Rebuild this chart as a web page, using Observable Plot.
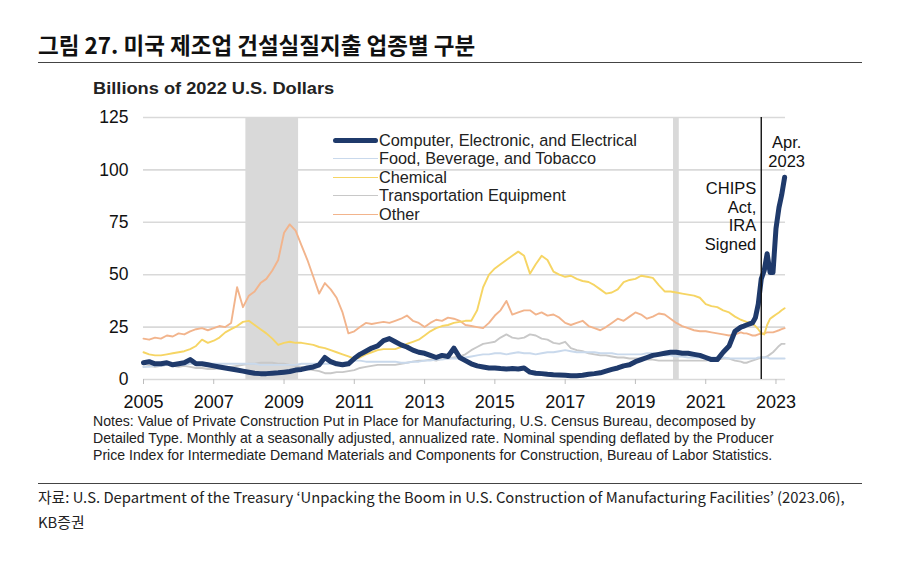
<!DOCTYPE html>
<html>
<head>
<meta charset="utf-8">
<script src="https://cdn.jsdelivr.net/npm/d3@7"></script>
<script src="https://cdn.jsdelivr.net/npm/@observablehq/plot@0.6"></script>
<style>
  html, body { margin: 0; padding: 0; background: #fff; }
  body { width: 900px; height: 563px; position: relative; overflow: hidden; font-family: "Liberation Sans", Arial, sans-serif; color: #111; }
  .abs { position: absolute; }
  #title { left: 38px; top: 30px; font-family: "Noto Sans CJK KR", sans-serif; font-weight: 700; font-size: 22.5px; line-height: 28px; color: #111; white-space: nowrap; }
  #rule1 { left: 38px; top: 62px; width: 824px; border-top: 1.5px solid #444; }
  #unit { left: 93px; top: 79px; font-weight: 700; font-size: 16px; line-height: 20px; color: #222; white-space: nowrap; transform: scaleX(1.14); transform-origin: left center; }
  #chart { left: 0px; top: 100px; }
  #legend { left: 333px; top: 131px; font-size: 16.3px; color: #222; }
  #legend .row { display: flex; align-items: center; height: 18.5px; white-space: nowrap; }
  #legend .sw { width: 45px; margin-right: 1px; }
  #notes { left: 93px; top: 413px; font-size: 14.1px; line-height: 17px; color: #222; white-space: nowrap; }
  #rule2 { left: 38px; top: 483px; width: 824px; border-top: 1.5px solid #444; }
  #source { left: 38px; top: 484px; font-family: "Noto Sans CJK KR", sans-serif; font-size: 14.8px; line-height: 25px; color: #222; white-space: nowrap; }
</style>
</head>
<body>
<div id="title" class="abs">그림 27. 미국 제조업 건설실질지출 업종별 구분</div>
<div id="rule1" class="abs"></div>
<div id="unit" class="abs">Billions of 2022 U.S. Dollars</div>
<div id="chart" class="abs"></div>
<div id="legend" class="abs"></div>
<div id="notes" class="abs">Notes: Value of Private Construction Put in Place for Manufacturing, U.S. Census Bureau, decomposed by<br>Detailed Type. Monthly at a seasonally adjusted, annualized rate. Nominal spending deflated by the Producer<br>Price Index for Intermediate Demand Materials and Components for Construction, Bureau of Labor Statistics.</div>
<div id="rule2" class="abs"></div>
<div id="source" class="abs">자료: U.S. Department of the Treasury ‘Unpacking the Boom in U.S. Construction of Manufacturing Facilities’ (2023.06),<br>KB증권</div>
<script>
// ---------- DATA ----------
const dates = [
  "2005-01","2005-03","2005-05","2005-07","2005-09","2005-11",
  "2006-01","2006-03","2006-05","2006-07","2006-09","2006-11",
  "2007-01","2007-03","2007-05","2007-07","2007-09","2007-11",
  "2008-01","2008-03","2008-05","2008-07","2008-09","2008-11",
  "2009-01","2009-03","2009-05","2009-07","2009-09","2009-11",
  "2010-01","2010-03","2010-05","2010-07","2010-09","2010-11",
  "2011-01","2011-03","2011-05","2011-07","2011-09","2011-11",
  "2012-01","2012-03","2012-05","2012-07","2012-09","2012-11",
  "2013-01","2013-03","2013-05","2013-07","2013-09","2013-11",
  "2014-01","2014-03","2014-05","2014-07","2014-09","2014-11",
  "2015-01","2015-03","2015-05","2015-07","2015-09","2015-11",
  "2016-01","2016-03","2016-05","2016-07","2016-09","2016-11",
  "2017-01","2017-03","2017-05","2017-07","2017-09","2017-11",
  "2018-01","2018-03","2018-05","2018-07","2018-09","2018-11",
  "2019-01","2019-03","2019-05","2019-07","2019-09","2019-11",
  "2020-01","2020-03","2020-05","2020-07","2020-09","2020-11",
  "2021-01","2021-03","2021-05","2021-07","2021-09","2021-11",
  "2022-01","2022-02","2022-03","2022-04","2022-05","2022-06",
  "2022-07","2022-08","2022-09","2022-10","2022-11","2022-12",
  "2023-01","2023-02","2023-03","2023-04"
];

const computer = [
  8, 8.5, 7.5, 7.5, 8, 7,
  7.5, 8, 9.5, 7.5, 7.5, 7,
  6.5, 6, 5.5, 5, 4.5, 4,
  3.5, 3, 2.8, 2.8, 3, 3.2,
  3.5, 3.8, 4.5, 4.8, 5.5, 6,
  7, 10.5, 8.5, 7.5, 7, 7.5,
  10, 12, 13.5, 15, 16, 18.5,
  19.5, 18, 16.5, 15.5, 14, 13,
  12.5, 11.5, 10.5, 11.5, 11, 15,
  10.5, 9, 7.5, 6.5, 6, 5.5,
  5.5, 5.2, 5, 5.2, 5, 5.5,
  3.5, 3, 2.8, 2.5, 2.3, 2.2,
  2, 1.8, 1.8, 2, 2.5, 2.8,
  3.2, 4, 4.8, 5.5, 6.5, 7,
  8.5, 9.5, 10.5, 11.5, 12, 12.5,
  13, 13, 12.5, 12.5, 12, 11.5,
  10.5, 9.5, 9.5, 13, 16, 23,
  25, 25.5, 26, 26.5, 27, 29.5,
  36, 48, 52, 60, 51, 51,
  72, 82, 88, 96.5
];

const food = [
  6, 6, 6.5, 6.5, 7, 7,
  7, 7, 7.5, 7.5, 7.5, 7.5,
  7.5, 7.5, 7.5, 7.5, 7.5, 7.5,
  7.5, 7.5, 7, 7, 7, 7,
  7, 7, 7, 7.5, 7.5, 7.5,
  7.5, 7.5, 7.5, 7.5, 8, 8.5,
  9, 9, 8.5, 8.5, 8.5, 8.5,
  8.5, 8.5, 8, 8, 8.5, 8.5,
  9, 9, 9.5, 9.5, 10, 10,
  10, 10.5, 11, 11.5, 12, 12,
  12.5, 12.5, 12, 12.5, 13, 12.5,
  12.5, 12, 12.5, 13, 13, 13.5,
  14, 13.5, 13, 13, 13, 13,
  12.5, 12.5, 12.5, 12, 12, 12,
  12, 12, 12.5, 12.5, 12, 11.5,
  11.5, 11, 11, 10.5, 10.5, 10.5,
  10.5, 10.5, 10.5, 10.5, 10, 10,
  10, 10, 10, 10, 10, 10,
  10.5, 10.5, 10.5, 10.5, 10, 10,
  10, 10, 10, 10
];

const chemical = [
  13, 12, 11.5, 11.5, 12, 12.5,
  13, 13.5, 14.5, 16, 19, 17.5,
  18.5, 20, 22.5, 24, 25.5, 27.5,
  28, 26, 24, 22, 19.5, 16.5,
  17.5, 18, 17.5, 17.5, 17, 16.5,
  15.5, 15, 14, 13, 12, 11,
  10, 10.5, 12, 13, 14, 14.5,
  14.5, 14.5, 15.5, 17, 18, 19,
  21, 23, 24.5, 25.5, 26, 27,
  27.5, 28, 28, 33, 44, 50,
  53, 55, 57, 59, 61, 59,
  50.5, 55, 59, 57, 51.5, 50,
  49, 49.5, 48, 47, 46.5, 45,
  43, 41, 41.5, 43, 46.5, 47.5,
  48, 49.5, 49, 48.5, 45, 42,
  42, 41.5, 41, 40.5, 40, 39,
  36, 35, 34.5, 33, 32, 30,
  28.5, 28, 27.5, 27, 26.5, 25.5,
  24, 22, 21.5, 26, 29, 30,
  31, 32, 33, 34
];

const transportation = [
  6, 6.5, 6, 6.5, 7, 6.5,
  6, 6.5, 6, 5.5, 5.5, 5,
  5, 5.5, 6, 6, 6.5, 7,
  7.5, 7.5, 8, 8, 8, 7.5,
  7.5, 7, 6.5, 6, 5, 4.5,
  4, 3, 3, 3.5, 3.5, 4,
  4.5, 5.5, 6, 6.5, 7, 7,
  7, 7, 7.5, 8, 8.5, 9,
  9, 9.5, 9, 10, 10, 10.5,
  11, 12, 14, 15.5, 17, 17.5,
  18, 20, 21.5, 20, 19.5, 20,
  21.5, 21, 19.5, 19, 17.5, 17,
  18, 15, 14, 13.5, 12.5, 12,
  11.5, 11.5, 11, 10.5, 10.5, 10,
  10, 10, 9.5, 9.5, 9, 9,
  9, 9, 9, 9, 9, 9,
  9, 9.5, 9.5, 10, 10, 9,
  8.5, 8, 8, 8.5, 9, 9.5,
  10, 10.5, 10.5, 11, 12, 13,
  14.5, 16, 17, 17
];

const other = [
  19.5, 19, 20, 19.5, 21, 20.5,
  22, 21.5, 23, 24, 24.5, 23.5,
  24.5, 25.5, 25, 27, 44, 34.5,
  40, 42, 46, 48, 52, 57,
  70, 74, 71, 64, 57, 49,
  41, 46, 43, 39, 32, 22,
  23, 25, 27, 26.5, 27, 27.5,
  27, 28, 29, 30.5, 28, 27,
  25, 27, 28.5, 28, 29.5, 29,
  28, 26, 25.5, 25, 24.5, 27,
  30.5, 33, 37.5, 31, 32, 33,
  33, 31, 32, 30.5, 31, 29.5,
  27, 26, 27, 28, 25.5, 24.5,
  23.5, 25, 27, 29, 28, 30,
  32, 31, 29, 30, 31.5, 31,
  29, 27, 25.5, 24.5, 23.5, 23,
  23, 22.5, 22, 21.5, 21, 21.5,
  22.5, 22, 22, 21.5, 21, 21,
  21.5, 22, 22, 22.5, 22.5, 22.5,
  23, 23.5, 24, 24.5
];

const seriesNames = [
  "Computer, Electronic, and Electrical",
  "Food, Beverage, and Tobacco",
  "Chemical",
  "Transportation Equipment",
  "Other"
];
const seriesColors = ["#1f3a6b", "#c9d9ec", "#f6d564", "#c8c8c8", "#f2b48c"];
const seriesWidths = [5, 1.9, 1.9, 1.9, 1.9];

const recessionStart = ["2007-12", "2020-02"];
const recessionEnd = ["2009-06", "2020-04"];

const eventDate = "2022-08";
const eventLabel = "CHIPS\nAct,\nIRA\nSigned";
const endLabel = "Apr.\n2023";

const yTicks = [0, 25, 50, 75, 100, 125];
const xTickYears = [2005, 2007, 2009, 2011, 2013, 2015, 2017, 2019, 2021, 2023];

// ---------- BUILD ----------
const parse = d3.utcParse("%Y-%m");
const values = [computer, food, chemical, transportation, other];
const rows = [];
values.forEach((arr, s) => arr.forEach((v, i) => rows.push({date: parse(dates[i]), value: v, series: seriesNames[s]})));
const recessions = recessionStart.map((s, i) => ({start: parse(s), end: parse(recessionEnd[i])}));
const drawOrder = [4, 2, 3, 1, 0];
const lastDate = parse(dates[dates.length - 1]);

const font = "'Liberation Sans', Arial, sans-serif";
const chart = Plot.plot({
  width: 900,
  height: 322,
  marginLeft: 143,
  marginRight: 115,
  marginTop: 17,
  marginBottom: 43,
  style: {fontFamily: font, fontSize: "17px", color: "#111", background: "transparent", overflow: "visible"},
  x: {type: "utc", domain: [parse("2005-01"), new Date(Date.UTC(2023, 3, 10))]},
  y: {domain: [0, 125]},
  marks: [
    Plot.rectX(recessions, {x1: "start", x2: "end", fill: "#d9d9d9"}),
    Plot.ruleY(yTicks, {stroke: "#d9d9d9", strokeWidth: 1.6}),
    Plot.axisY({ticks: yTicks, tickSize: 0, tickPadding: 15, fontSize: 17.5, fill: "#111", label: null}),
    Plot.axisX({ticks: xTickYears.map(y => new Date(Date.UTC(y, 0, 1))), tickFormat: d3.utcFormat("%Y"), tickSize: 5, tickPadding: 11, stroke: "#bdbdbd", fill: "#111", fontSize: 18, label: null}),
    ...drawOrder.map(s => Plot.line(rows.filter(r => r.series === seriesNames[s]), {
      x: "date", y: "value", stroke: seriesColors[s], strokeWidth: seriesWidths[s], strokeLinejoin: "round", curve: "linear"
    })),
    Plot.ruleX([parse(eventDate)], {stroke: "#111", strokeWidth: 1.4}),
    Plot.text([eventLabel], {x: parse(eventDate), frameAnchor: "top", text: d => d, textAnchor: "end", lineAnchor: "top", dx: -5, dy: 63, lineHeight: 1.14, fontSize: 16.5, fill: "#111"}),
    Plot.text([endLabel], {x: lastDate, frameAnchor: "top", text: d => d, textAnchor: "middle", lineAnchor: "top", dx: 2, dy: 17, lineHeight: 1.15, fontSize: 16.5, fill: "#111"})
  ]
});
document.getElementById("chart").appendChild(chart);

// legend
const legend = document.getElementById("legend");
seriesNames.forEach((name, i) => {
  const row = document.createElement("div");
  row.className = "row";
  const sw = document.createElement("span");
  sw.className = "sw";
  sw.style.borderTop = `${seriesWidths[i]}px solid ${seriesColors[i]}`;
  sw.style.borderRadius = seriesWidths[i] > 2 ? "3px" : "0";
  const t = document.createElement("span");
  t.textContent = name;
  row.appendChild(sw); row.appendChild(t);
  legend.appendChild(row);
});
</script>
</body>
</html>
